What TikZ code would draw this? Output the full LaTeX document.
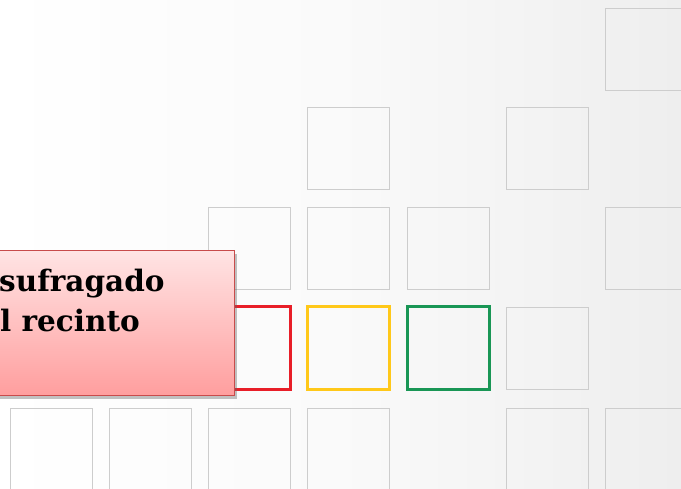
\documentclass[tikz,border=0pt]{standalone}
\usepackage{fontspec}
\newfontfamily\boxfont{DejaVu Serif}
\usetikzlibrary{shadows,positioning}
\definecolor{sqgrey}{RGB}{205,205,205}
\definecolor{sqred}{RGB}{232,30,40}
\definecolor{sqyellow}{RGB}{255,200,25}
\definecolor{sqgreen}{RGB}{25,150,85}
\definecolor{boxtop}{RGB}{255,228,228}
\definecolor{boxbot}{RGB}{255,158,158}
\definecolor{boxline}{RGB}{200,75,75}
\definecolor{bgright}{RGB}{238,238,238}
\tikzset{
  sq/.style={draw=sqgrey, line width=0.9pt, minimum size=82pt, inner sep=0pt, outer sep=0pt},
  colsq/.style={sq, draw=#1, line width=2.6pt, minimum size=82.5pt},
  boxstyle/.style={draw=boxline, line width=1pt, top color=boxtop, bottom color=boxbot,
    inner sep=0pt, outer sep=0pt,
    drop shadow={shadow xshift=3pt, shadow yshift=-4pt, opacity=0.4, fill=black!60}},
  boxtext/.style={font=\boxfont\bfseries\fontsize{29.5}{34}\selectfont, inner sep=0pt, anchor=base west, text=black}
}
\begin{document}
\begin{tikzpicture}[x=1pt,y=-1pt]
\useasboundingbox (0,0) rectangle (681,489);
\shade[left color=white, right color=bgright, middle color=white!98!black] (0,0) rectangle (681,489);
% row 1
\node[sq] (r1c7) at (646.5,49.5) {};
% row 2
\node[sq] (r2c4) at (348.5,148.5) {};
\node[sq] (r2c6) at (547,148.5) {};
% row 3
\node[sq] (r3c3) at (249.5,248.5) {};
\node[sq] (r3c4) at (348.5,248.5) {};
\node[sq] (r3c5) at (448,248.5) {};
\node[sq] (r3c7) at (646.5,248.5) {};
% row 4
\node[colsq=sqred] (r4c3) at (249.5,348) {};
\node[colsq=sqyellow] (r4c4) at (348.5,348) {};
\node[colsq=sqgreen] (r4c5) at (448.5,348) {};
\node[sq] (r4c6) at (547,348) {};
% row 5
\node[sq] (r5c1) at (51,449) {};
\node[sq] (r5c2) at (150.5,449) {};
\node[sq] (r5c3) at (249.5,449) {};
\node[sq] (r5c4) at (348.5,449) {};
\node[sq] (r5c6) at (547,449) {};
\node[sq] (r5c7) at (646.5,449) {};
% label box
\node[boxstyle, minimum width=245pt, minimum height=145pt] (box) at (111.5,323) {};
\node[boxtext] (line1) at (-1,292) {sufragado};
\node[boxtext] (line2) at (0,332) {l recinto};
\end{tikzpicture}
\end{document}
